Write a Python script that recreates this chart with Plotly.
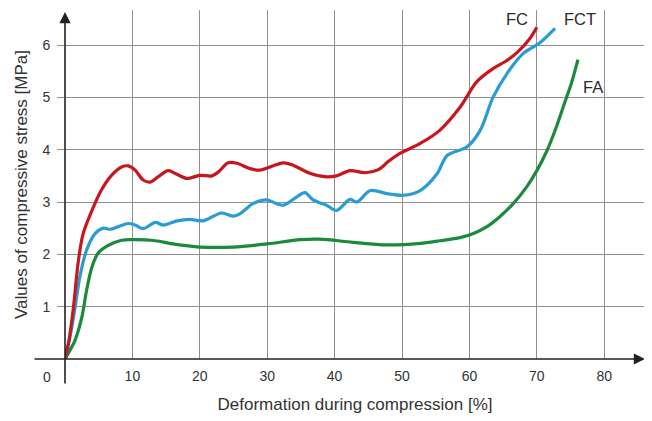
import plotly.graph_objects as go

# FC (red)
fc_x = [0, 0.5, 1.2, 2.0, 2.7, 4.0, 5.4, 6.9, 8.4, 9.4, 10.4, 11.6, 12.6, 13.8, 15.3, 16.6, 18.1, 20.0, 21.8, 22.8, 24.2, 25.5, 27.4, 28.9, 32.4, 33.9, 36.3, 38.8, 40.3, 42.3, 44.5, 46.5, 48.0, 49.7, 52.7, 55.6, 58.6, 61.1, 63.5, 65.5, 67.1, 69.0, 70.0]
fc_y = [0.02, 0.29, 0.93, 1.89, 2.4, 2.84, 3.23, 3.51, 3.67, 3.69, 3.61, 3.42, 3.38, 3.48, 3.6, 3.53, 3.45, 3.51, 3.5, 3.58, 3.75, 3.74, 3.64, 3.61, 3.75, 3.7, 3.55, 3.48, 3.5, 3.6, 3.56, 3.62, 3.78, 3.93, 4.12, 4.37, 4.81, 5.3, 5.55, 5.7, 5.86, 6.13, 6.34]

# FCT (blue)
fct_x = [0, 0.74, 1.5, 2.2, 3.2, 4.5, 5.7, 6.7, 7.9, 9.4, 10.4, 11.6, 13.4, 14.6, 16.6, 18.5, 20.5, 23.2, 25.0, 26.0, 27.9, 29.9, 31.4, 32.4, 34.4, 35.6, 36.8, 38.8, 40.3, 42.3, 43.3, 45.3, 47.8, 50.2, 52.7, 55.2, 56.7, 59.6, 61.6, 63.5, 65.6, 68.0, 70.5, 72.7]
fct_y = [0.02, 0.42, 0.99, 1.57, 2.08, 2.4, 2.5, 2.48, 2.53, 2.59, 2.56, 2.49, 2.61, 2.56, 2.64, 2.67, 2.64, 2.79, 2.73, 2.78, 2.97, 3.04, 2.97, 2.94, 3.1, 3.18, 3.04, 2.94, 2.84, 3.05, 3.0, 3.22, 3.16, 3.13, 3.22, 3.54, 3.89, 4.05, 4.37, 5.0, 5.46, 5.84, 6.05, 6.32]

# FA (green)
fa_x = [0, 0.5, 1.5, 2.5, 3.2, 4.0, 4.9, 6.4, 8.4, 10.4, 13.4, 16.0, 20.0, 25.0, 30.0, 34.9, 37.8, 42.7, 47.8, 52.7, 55.6, 58.6, 60.6, 62.6, 64.5, 66.5, 68.5, 70.0, 71.5, 72.8, 74.0, 75.2, 76.1]
fa_y = [0.0, 0.11, 0.36, 0.8, 1.31, 1.76, 2.02, 2.17, 2.27, 2.28, 2.26, 2.2, 2.14, 2.14, 2.2, 2.28, 2.29, 2.23, 2.18, 2.21, 2.26, 2.32, 2.4, 2.53, 2.72, 2.97, 3.29, 3.6, 3.98, 4.4, 4.85, 5.3, 5.72]

x_ticks = [10, 20, 30, 40, 50, 60, 70, 80]
y_ticks = [1, 2, 3, 4, 5, 6]
series_labels = ["FC", "FCT", "FA"]

FONT = "Arial, Liberation Sans, sans-serif"
TXT = "#333333"

fig = go.Figure()
for xs, ys, col in [(fa_x, fa_y, "#1b8a3c"), (fct_x, fct_y, "#2b9bd6"), (fc_x, fc_y, "#c8161e")]:
    fig.add_trace(go.Scatter(x=xs, y=ys, mode="lines",
                             line=dict(color=col, width=3.2, shape="spline", smoothing=0.9),
                             showlegend=False, hoverinfo="skip"))

# page body adds an 8px offset, so the figure is sized and placed to compensate
fig.update_layout(
    width=644, height=413,
    margin=dict(l=57, r=7, t=2, b=62),
    paper_bgcolor="white", plot_bgcolor="white",
    font=dict(family=FONT, size=14, color=TXT),
    xaxis=dict(range=[0, 86.05], tickvals=x_ticks, ticktext=[str(v) for v in x_ticks],
               showgrid=True, gridcolor="#8f8f8f", gridwidth=1, zeroline=False, automargin=False,
               showline=False, ticks="", ticklabelstandoff=7,
               title=dict(text="Deformation during compression [%]", standoff=15,
                          font=dict(size=17, color=TXT))),
    yaxis=dict(range=[0, 6.67], tickvals=y_ticks, ticktext=[str(v) for v in y_ticks],
               showgrid=True, gridcolor="#8f8f8f", gridwidth=1, zeroline=False, automargin=False,
               showline=False, ticks="outside", ticklen=7, tickcolor="#8f8f8f", tickwidth=1,
               ticklabelstandoff=4,
               title=dict(text="Values of compressive stress [MPa]", standoff=10,
                          font=dict(size=17, color=TXT))),
)

# axes with arrows
fig.add_annotation(xref="paper", yref="paper", x=1.0, y=0, ax=-612, ay=0, axref="pixel", ayref="pixel",
                   text="", showarrow=True, arrowhead=2, arrowsize=1.4, arrowwidth=1.6, arrowcolor="#222")
fig.add_annotation(xref="paper", yref="paper", x=0, y=0.994, ax=0, ay=373, axref="pixel", ayref="pixel",
                   text="", showarrow=True, arrowhead=2, arrowsize=1.4, arrowwidth=1.6, arrowcolor="#222")
fig.add_annotation(xref="paper", yref="paper", x=-0.031, y=-0.053, xanchor="center", yanchor="middle",
                   text="0", showarrow=False, font=dict(size=14, color=TXT))

# series labels
for name, lx, ly in zip(series_labels, [67.1, 76.4, 78.3], [6.5, 6.5, 5.2]):
    fig.add_annotation(x=lx, y=ly, text=name, showarrow=False, font=dict(size=16.5, color="#2a2a2a"))

fig.write_html("out.html")
